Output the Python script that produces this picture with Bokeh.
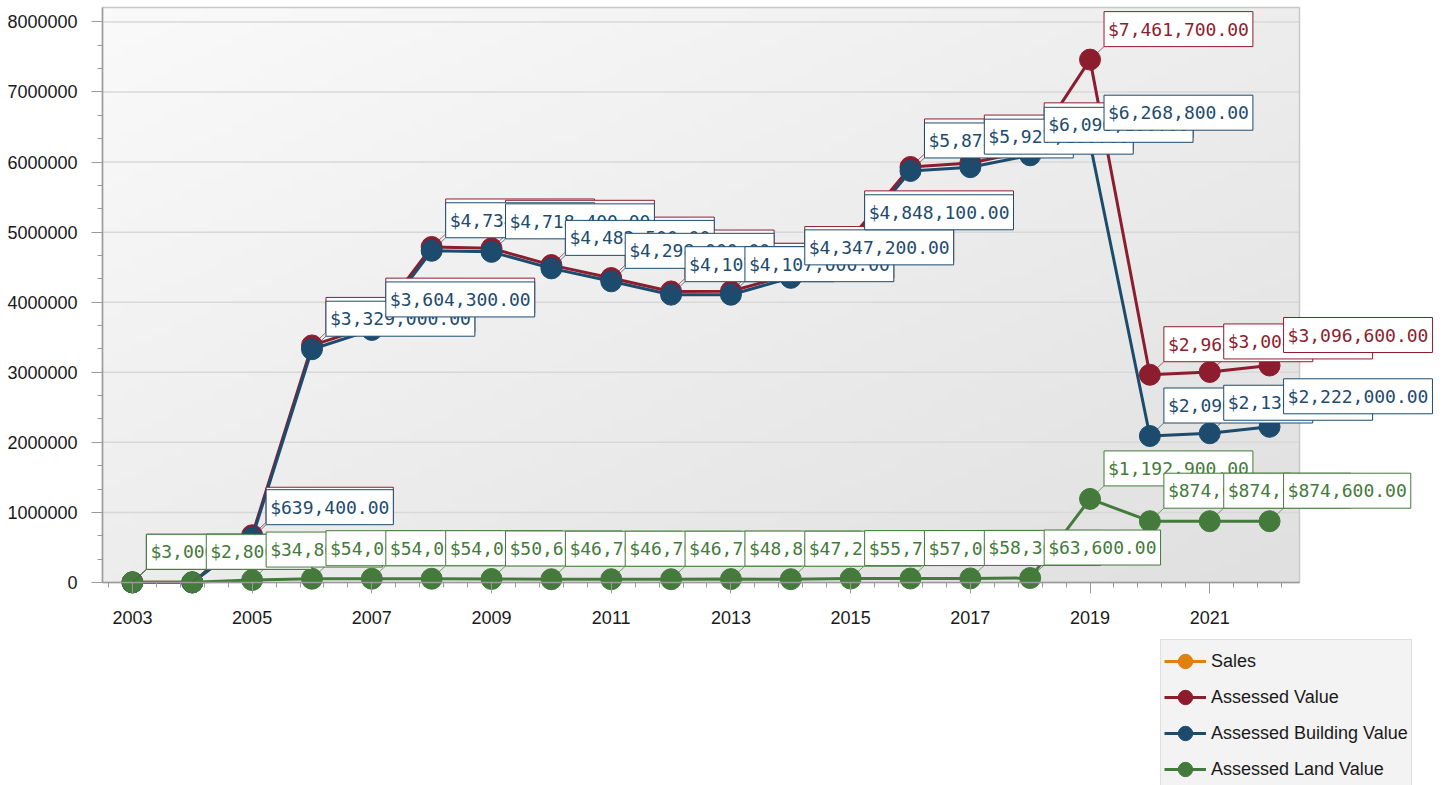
import numpy as np
from bokeh.plotting import figure
from bokeh.models import (Range1d, FixedTicker, BasicTickFormatter, Legend, LegendItem)
from bokeh.core.properties import value
from bokeh.embed import file_html
from bokeh.resources import INLINE

# ---------------- data ----------------
years = list(range(2003, 2023))
sales = [float("nan")] * len(years)   # no sales recorded (series only appears in the legend)
assessed_value = [3000, 2800, 674200, 3383000, 3658300, 4788100, 4769000, 4529200,
                  4344700, 4153700, 4155800, 4394400, 4903800, 5930000, 5985400,
                  6159700, 7461700, 2965000, 3004600, 3096600]
building_value = [0, 0, 639400, 3329000, 3604300, 4734100, 4718400, 4482500,
                  4298000, 4107000, 4107000, 4347200, 4848100, 5873000, 5927100,
                  6096100, 6268800, 2090400, 2130000, 2222000]
land_value = [3000, 2800, 34800, 54000, 54000, 54000, 50600, 46700, 46700, 46700,
              48800, 47200, 55700, 57000, 58300, 63600, 1192900, 874600, 874600, 874600]
x_tick_years = list(range(2003, 2022, 2))
y_ticks = list(range(0, 8000001, 1000000))

series_names = ["Sales", "Assessed Value", "Assessed Building Value", "Assessed Land Value"]
colors = ["#E0800F", "#8C1D2E", "#1D4B6E", "#447A3B"]

# ---------------- layout constants ----------------
W, H = 1440, 785
LEFT_PX, TOP_PX, BOTTOM_PX = 102, 7, 582     # plot area edges on the canvas
X0, X1 = 2002.5, 2022.5                      # plot area in years
PX_YEAR = 1197 / (X1 - X0)
PX_Y = 70.075 / 1e6
Y0 = 0
Y1 = (BOTTOM_PX - TOP_PX) / PX_Y
# the frame covers the whole canvas so that labels / legend outside the plot area are not clipped
XL = X0 - LEFT_PX / PX_YEAR
XR = XL + W / PX_YEAR
YB = -(H - BOTTOM_PX) / PX_Y
YT = BOTTOM_PX / PX_Y
OFF_X, OFF_Y = 14, 13

p = figure(width=W, height=H, x_range=Range1d(XL, XR), y_range=Range1d(YB, YT),
           output_backend="svg", toolbar_location=None, min_border=0,
           min_border_left=0, min_border_right=0, min_border_top=0, min_border_bottom=0)
p.background_fill_color = "white"
p.border_fill_color = "white"
p.outline_line_color = None

# gradient background of the plot area
gh, gw = 60, 120
u = np.linspace(0, 1, gw)[None, :]
v = np.linspace(0, 1, gh)[:, None]
t = (u + (1 - v)) / 2.0
g = (250 - 26 * t).astype(np.uint8)
img = np.empty((gh, gw), dtype=np.uint32)
view = img.view(dtype=np.uint8).reshape((gh, gw, 4))
view[:, :, 0] = g
view[:, :, 1] = g
view[:, :, 2] = g
view[:, :, 3] = 255
p.image_rgba(image=[img], x=X0, y=Y0, dw=X1 - X0, dh=Y1 - Y0)

# grid lines and plot-area border
grid_y = y_ticks[1:]
p.segment(x0=[X0] * len(grid_y), y0=grid_y, x1=[X1] * len(grid_y), y1=grid_y,
          line_color="#d8d8d8", line_width=1.5)
p.quad(left=[X0], right=[X1], bottom=[Y0], top=[Y1], fill_color=None,
       line_color="#c8c8c8", line_width=1.5)

# ---------------- axes ----------------
p.xgrid.visible = False
p.ygrid.visible = False
p.xaxis.fixed_location = Y0
p.yaxis.fixed_location = X0
p.xaxis.bounds = (X0, X1)
p.yaxis.bounds = (Y0, Y1)
p.xaxis.ticker = FixedTicker(ticks=x_tick_years,
                             minor_ticks=list(np.round(np.arange(X0 + 0.1, X1, 0.4), 3)))
p.yaxis.ticker = FixedTicker(ticks=y_ticks,
                             minor_ticks=list(np.arange(0, Y1, 1000000 / 3)))
p.yaxis.formatter = BasicTickFormatter(use_scientific=False)
for ax in (p.xaxis, p.yaxis):
    ax.axis_line_color = "#9a9a9a"
    ax.axis_line_width = 1.5
    ax.major_tick_line_color = "#9a9a9a"
    ax.minor_tick_line_color = "#9a9a9a"
    ax.major_tick_out = 11
    ax.major_tick_in = 0
    ax.minor_tick_out = 5
    ax.minor_tick_in = 0
    ax.major_label_text_font = "Liberation Sans"
    ax.major_label_text_font_size = "18px"
    ax.major_label_text_color = "#1a1a1a"
p.xaxis.major_label_standoff = 17
p.yaxis.major_label_standoff = 14

# ---------------- series ----------------
def money(vv):
    return "${:,.2f}".format(vv)

data = [(years, sales), (years, assessed_value), (years, building_value), (years, land_value)]
legend_renderers = []
for (xs, ys), c in zip(data, colors):
    r1 = p.line(xs, ys, line_color=c, line_width=3)
    r2 = p.scatter(xs, ys, size=21, fill_color=c, line_color=c, line_width=1)
    legend_renderers.append([r1, r2])

for (xs, ys), c in zip(data[1:], colors[1:]):
    p.segment(x0=xs, y0=ys, x1=[x + OFF_X / PX_YEAR for x in xs], y1=[y + OFF_Y / PX_Y for y in ys],
              line_color=c, line_width=1, line_alpha=0.7)

for (xs, ys), c in zip(data[1:], colors[1:]):
    p.text(x=xs, y=ys, text=[money(vv) for vv in ys], x_offset=OFF_X, y_offset=-OFF_Y,
           anchor="bottom_left", text_align="left", text_baseline="bottom", padding=(4, 7),
           text_font=value("DejaVu Sans Mono"), text_font_size="18px", text_color=c,
           background_fill_color="white", border_line_color=c, border_line_width=1)

# ---------------- legend ----------------
items = [LegendItem(label=n, renderers=rs) for n, rs in zip(series_names, legend_renderers)]
LEG_H = 2 * 3 + 4 * 36
legend = Legend(items=items, location=(1160, H - 641 - LEG_H), orientation="vertical",
                padding=3, spacing=0, margin=0,
                glyph_width=42, glyph_height=36, label_height=36, label_standoff=5,
                label_text_font="Liberation Sans", label_text_font_size="18px",
                label_text_color="#1a1a1a",
                background_fill_color="#f3f3f3", background_fill_alpha=1.0,
                border_line_color="#cccccc", border_line_width=1)
p.add_layout(legend)

open("out.html", "w").write(file_html(p, INLINE))
